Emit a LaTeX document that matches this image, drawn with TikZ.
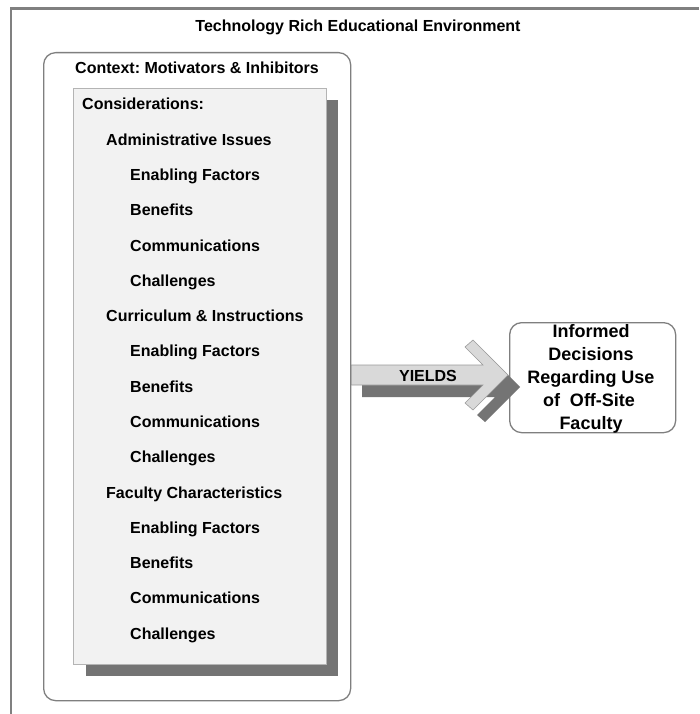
\documentclass[tikz,border=0pt]{standalone}
\usepackage{fontspec}
\setmainfont{Liberation Sans}
\frenchspacing
\definecolor{framegray}{HTML}{808080}
\definecolor{boxgray}{HTML}{7F7F7F}
\definecolor{panelfill}{HTML}{F2F2F2}
\definecolor{panelline}{HTML}{B4B4B4}
\definecolor{shadowgray}{HTML}{747474}
\definecolor{arrowfill}{HTML}{D9D9D9}
\definecolor{arrowline}{HTML}{9A9A9A}
\begin{document}
\begin{tikzpicture}[x=1pt,y=-1pt,
  txt/.style={font=\bfseries\fontsize{16}{19}\selectfont, inner sep=0pt, anchor=base west},
  bigtxt/.style={font=\bfseries\fontsize{18}{22}\selectfont, inner sep=0pt, anchor=base},
  roundbox/.style={draw=boxgray, line width=1.3pt, rounded corners=12pt, fill=white, inner sep=0pt, anchor=north west},
  shadowpart/.style={fill=shadowgray},
  panelpart/.style={fill=panelfill, draw=panelline, line width=0.8pt},
  arrowpart/.style={fill=arrowfill, draw=arrowline, line width=0.6pt, line join=miter}
]
\useasboundingbox (0,0) rectangle (699,714);
\fill[white] (0,0) rectangle (699,714);
% outer frame (only top and left edges visible)
\draw[draw=framegray, line width=2.5pt] (699,8.7) -- (11,8.7) -- (11,714);
\node[txt, anchor=base] (title) at (358,32) {Technology Rich Educational Environment};

% context box
\node[roundbox, minimum width=307pt, minimum height=648pt] (context) at (43,52) {};
\node[txt] (ctxlabel) at (75,74) {Context: Motivators \& Inhibitors};

% considerations panel with shadow
\fill[shadowpart] (86,100) rectangle (338,676);
\filldraw[panelpart] (73,88) rectangle (326,664);

\node[txt] (cons) at (82,110) {Considerations:};
\node[txt] (adm)   at (106,145.3) {Administrative Issues};
\node[txt] (adm1)  at (130,180.5) {Enabling Factors};
\node[txt] (adm2)  at (130,215.8) {Benefits};
\node[txt] (adm3)  at (130,251.1) {Communications};
\node[txt] (adm4)  at (130,286.4) {Challenges};
\node[txt] (cur)   at (106,321.6) {Curriculum \& Instructions};
\node[txt] (cur1)  at (130,356.9) {Enabling Factors};
\node[txt] (cur2)  at (130,392.2) {Benefits};
\node[txt] (cur3)  at (130,427.4) {Communications};
\node[txt] (cur4)  at (130,462.7) {Challenges};
\node[txt] (fac)   at (106,498.0) {Faculty Characteristics};
\node[txt] (fac1)  at (130,533.3) {Enabling Factors};
\node[txt] (fac2)  at (130,568.5) {Benefits};
\node[txt] (fac3)  at (130,603.8) {Communications};
\node[txt] (fac4)  at (130,639.0) {Challenges};

% decision box
\node[roundbox, minimum width=166pt, minimum height=110pt] (decision) at (509,322) {};
\node[bigtxt] (d1) at (591,337) {Informed};
\node[bigtxt] (d2) at (591,360) {Decisions};
\node[bigtxt] (d3) at (591,383) {Regarding Use};
\node[bigtxt] (d4) at (589,406) {of \ Off-Site};
\node[bigtxt] (d5) at (591,429) {Faculty};

% YIELDS arrow: shadow then arrow
\fill[shadowpart] (362,377) -- (495,377) -- (477,359) -- (485,352) -- (520,387)
  -- (485,422) -- (477,415) -- (495,397) -- (362,397) -- cycle;
\filldraw[arrowpart] (context.east |- 0,365) -- (483,365) -- (465,347) -- (473,340) -- (508,375)
  -- (473,410) -- (465,403) -- (483,385) -- (context.east |- 0,385) -- cycle;
\node[txt, anchor=base] (yields) at (428,381.5) {YIELDS};
\end{tikzpicture}
\end{document}
